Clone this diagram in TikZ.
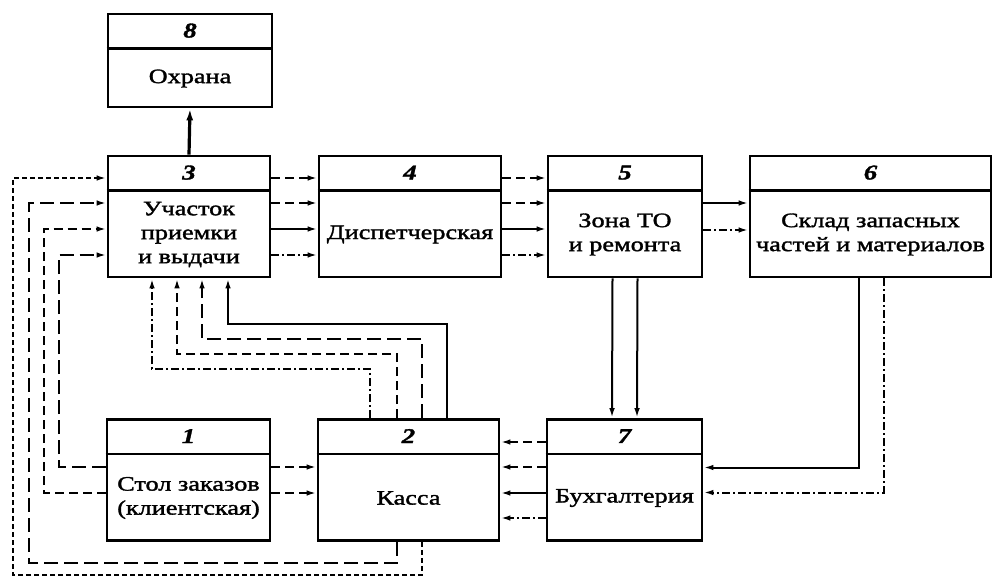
\documentclass[tikz,border=0pt]{standalone}
\usepackage{fontspec}
\setmainfont[FakeStretch=1.28, FakeBold=1.6]{Liberation Serif}
\usepackage{tikz}
\usetikzlibrary{arrows.meta, positioning}

\begin{document}
\begin{tikzpicture}[x=1pt, y=-1pt,
  blk/.style={draw, line width=2.8pt, inner sep=0pt},
  num/.style={font=\fontsize{21}{21}\selectfont\bfseries\itshape},
  txt/.style={font=\fontsize{20.5}{24}\selectfont, align=center},
  arr/.style={-{Latex[length=10pt,width=5.5pt]}, line width=2pt},
  ds/.style={dash pattern=on 9pt off 5pt},
  ld/.style={dash pattern=on 14pt off 6pt},
  fd/.style={dash pattern=on 5pt off 3pt},
  dd/.style={dash pattern=on 8pt off 3pt on 2pt off 3pt},
]
\useasboundingbox (0,0) rectangle (995,578);

% ---- Blocks ----------------------------------------------------------------
\node[blk, minimum width=164pt, minimum height=93pt]  (ohr)  at (190,60.5)  {};
\node[blk, minimum width=162pt, minimum height=121pt] (uch)  at (189,216.5) {};
\node[blk, minimum width=182pt, minimum height=121pt] (dis)  at (410,216.5) {};
\node[blk, minimum width=154pt, minimum height=121pt] (zon)  at (625,216.5) {};
\node[blk, minimum width=241pt, minimum height=121pt] (skl)  at (870.5,216.5) {};
\node[blk, minimum width=163pt, minimum height=121pt] (stol) at (188.5,480) {};
\node[blk, minimum width=181pt, minimum height=121pt] (kas)  at (408.5,480) {};
\node[blk, minimum width=155pt, minimum height=121pt] (buh)  at (624.5,480) {};

% ---- Headers ---------------------------------------------------------------
\foreach \b/\n in {ohr/8, uch/3, dis/4, zon/5, skl/6, stol/1, kas/2, buh/7} {
  \draw[line width=2.4pt] ([yshift=-36pt]\b.north west) -- ([yshift=-36pt]\b.north east);
  \node[num] at ([yshift=-18pt]\b.north) {\n};
}

% ---- Texts -----------------------------------------------------------------
\node[txt] at ([yshift=-18pt]ohr.center)  {Охрана};
\node[txt] at ([yshift=-18pt]uch.center)  {Участок\\приемки\\и выдачи};
\node[txt] at ([yshift=-18pt]dis.center)  {Диспетчерская};
\node[txt] at ([yshift=-18pt]zon.center)  {Зона ТО\\и ремонта};
\node[txt] at ([yshift=-18pt]skl.center)  {Склад запасных\\частей и материалов};
\node[txt] at ([yshift=-18pt]stol.center) {Стол заказов\\(клиентская)};
\node[txt] at ([yshift=-18pt]kas.center)  {Касса};
\node[txt] at ([yshift=-18pt]buh.center)  {Бухгалтерия};

% ---- 3 -> 8 ----------------------------------------------------------------
\draw[-{Latex[length=12pt,width=7pt]}, line width=3.2pt] (uch.north) -- (ohr.south);

% ---- 3 -> 4 -> 5 -> 6 ------------------------------------------------------
\foreach \a/\b in {uch/dis, dis/zon} {
  \draw[arr, ds] ([yshift=38.5pt]\a.east) -- ([yshift=38.5pt]\b.west);
  \draw[arr, ds] ([yshift=13.5pt]\a.east) -- ([yshift=13.5pt]\b.west);
  \draw[arr] ([yshift=-12.5pt]\a.east) -- ([yshift=-12.5pt]\b.west);
  \draw[arr, dd] ([yshift=-38.5pt]\a.east) -- ([yshift=-38.5pt]\b.west);
}
\draw[arr] ([yshift=13.5pt]zon.east) -- ([yshift=13.5pt]skl.west);
\draw[arr, dd] ([yshift=-13.5pt]zon.east) -- ([yshift=-13.5pt]skl.west);

% ---- 5, 6 -> 7 -------------------------------------------------------------
\draw[arr] ([xshift=-12.5pt]zon.south) -- ([xshift=-12.5pt]buh.north);
\draw[arr] ([xshift=12.5pt]zon.south) -- ([xshift=12.5pt]buh.north);
\draw[arr] ([xshift=-12pt]skl.south) |- ([yshift=12.5pt]buh.east);
\draw[arr, dd] ([xshift=13pt]skl.south) |- ([yshift=-12.5pt]buh.east);

% ---- 7 -> 2, 1 -> 2 --------------------------------------------------------
\draw[arr, ds] ([yshift=38pt]buh.west) -- ([yshift=38pt]kas.east);
\draw[arr, ds] ([yshift=13pt]buh.west) -- ([yshift=13pt]kas.east);
\draw[arr] ([yshift=-13pt]buh.west) -- ([yshift=-13pt]kas.east);
\draw[arr, dd] ([yshift=-38pt]buh.west) -- ([yshift=-38pt]kas.east);
\draw[arr, ds] ([yshift=13pt]stol.east) -- ([yshift=13pt]kas.west);
\draw[arr, ds] ([yshift=-13pt]stol.east) -- ([yshift=-13pt]kas.west);

% ---- 1 -> 3 ----------------------------------------------------------------
\draw[arr, ld] ([yshift=13pt]stol.west) -- ++(-47,0) |- ([yshift=-38.5pt]uch.west);
\draw[arr, ds] ([yshift=-13pt]stol.west) -- ++(-62,0) |- ([yshift=-12.5pt]uch.west);

% ---- 2 -> 3 ----------------------------------------------------------------
\draw[arr, ld] ([xshift=-11.5pt]kas.south) -- ++(0,21) -- ++(-368,0) |- ([yshift=13.5pt]uch.west);
\draw[arr, fd] ([xshift=13.5pt]kas.south) -- ++(0,33) -- ++(-409,0) |- ([yshift=38.5pt]uch.west);
\draw[arr, dd] ([xshift=-38.5pt]kas.north) -- ++(0,-49) -| ([xshift=-37pt]uch.south);
\draw[arr, ds] ([xshift=-11.5pt]kas.north) -- ++(0,-64) -| ([xshift=-12pt]uch.south);
\draw[arr, ld] ([xshift=13.5pt]kas.north) -- ++(0,-79) -| ([xshift=13pt]uch.south);
\draw[arr] ([xshift=38.5pt]kas.north) -- ++(0,-94) -| ([xshift=39pt]uch.south);

\end{tikzpicture}
\end{document}
